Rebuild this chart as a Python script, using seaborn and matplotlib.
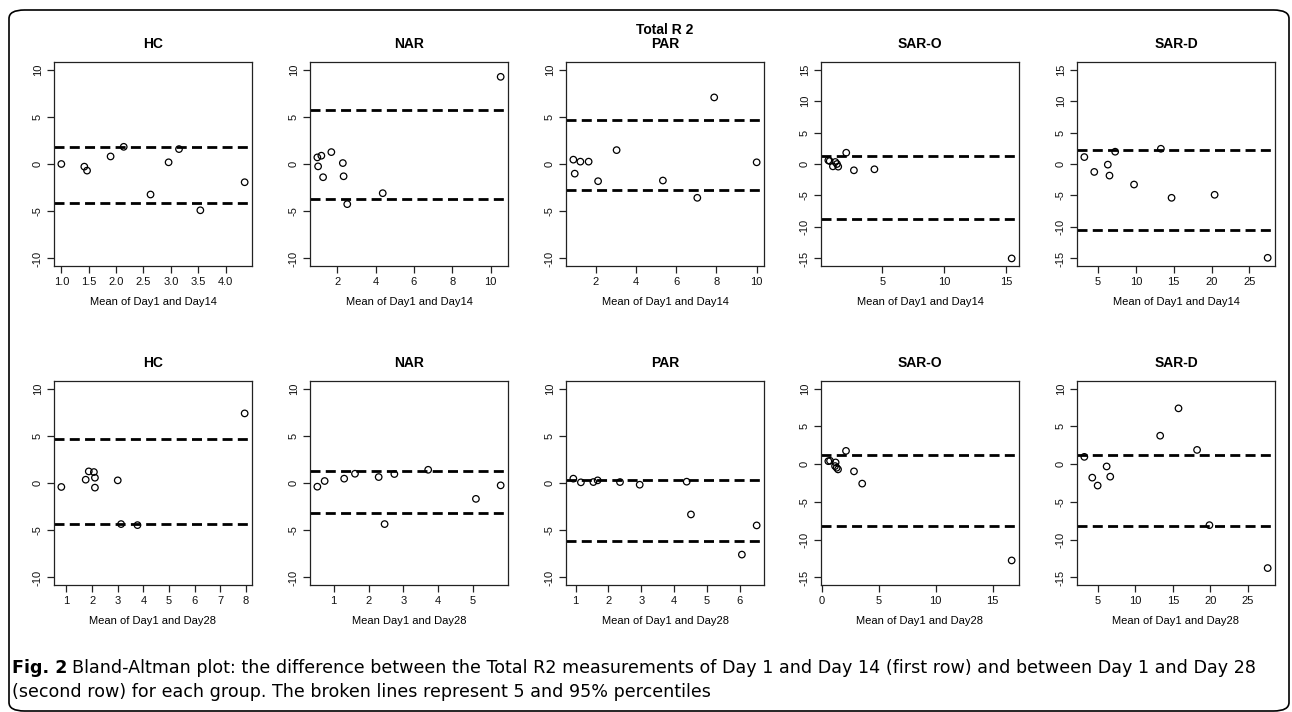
import matplotlib
matplotlib.use("Agg")
import matplotlib.pyplot as plt
import seaborn as sns
from matplotlib.patches import FancyBboxPatch

groups = ["HC", "NAR", "PAR", "SAR-O", "SAR-D"]

# ---- Day 1 vs Day 14 (first row) ----
hc14_mean = [1.0, 1.42, 1.47, 1.90, 2.14, 2.63, 2.96, 3.15, 3.54, 4.35]
hc14_diff = [0.0, -0.28, -0.7, 0.8, 1.82, -3.23, 0.18, 1.58, -4.9, -1.93]
hc14_lims = [1.75, -4.1]

nar14_mean = [0.96, 1.0, 1.17, 1.26, 1.69, 2.29, 2.33, 2.52, 4.37, 10.52]
nar14_diff = [0.70, -0.25, 0.88, -1.40, 1.26, 0.1, -1.3, -4.25, -3.09, 9.23]
nar14_lims = [5.68, -3.68]

par14_mean = [0.89, 0.96, 1.24, 1.65, 2.12, 3.04, 5.34, 7.05, 7.89, 10.0]
par14_diff = [0.46, -1.02, 0.25, 0.25, -1.82, 1.47, -1.75, -3.58, 7.05, 0.18]
par14_lims = [4.63, -2.74]

saro14_mean = [0.62, 0.73, 0.99, 1.18, 1.32, 1.42, 2.07, 2.69, 4.35, 15.46]
saro14_diff = [0.58, 0.47, -0.37, 0.32, 0.0, -0.42, 1.79, -1.0, -0.84, -15.0]
saro14_lims = [1.32, -8.68]

sard14_mean = [3.21, 4.52, 6.31, 6.53, 7.28, 9.77, 13.31, 14.72, 20.4, 27.4]
sard14_diff = [1.1, -1.26, -0.1, -1.84, 1.95, -3.26, 2.42, -5.37, -4.89, -14.9]
sard14_lims = [2.21, -10.53]

# ---- Day 1 vs Day 28 (second row) ----
hc28_mean = [0.80, 1.75, 1.87, 2.07, 2.11, 2.11, 3.0, 3.13, 3.77, 7.95]
hc28_diff = [-0.42, 0.35, 1.23, 1.16, 0.56, -0.49, 0.28, -4.35, -4.46, 7.37]
hc28_lims = [4.63, -4.39]

nar28_mean = [0.53, 0.74, 1.30, 1.61, 2.29, 2.46, 2.74, 3.71, 5.08, 5.79]
nar28_diff = [-0.39, 0.21, 0.46, 0.98, 0.63, -4.35, 0.95, 1.40, -1.68, -0.25]
nar28_lims = [1.26, -3.16]

par28_mean = [0.93, 1.16, 1.54, 1.67, 2.35, 2.95, 4.38, 4.51, 6.06, 6.51]
par28_diff = [0.46, 0.07, 0.1, 0.28, 0.1, -0.18, 0.14, -3.33, -7.58, -4.49]
par28_lims = [0.35, -6.18]

saro28_mean = [0.58, 0.73, 1.22, 1.17, 1.31, 1.43, 2.13, 2.83, 3.55, 16.66]
saro28_diff = [0.39, 0.44, 0.22, -0.26, -0.48, -0.70, 1.75, -0.96, -2.58, -12.75]
saro28_lims = [1.18, -8.17]

sard28_mean = [3.18, 4.24, 4.96, 6.16, 6.64, 13.31, 15.76, 18.24, 19.89, 27.67]
sard28_diff = [0.96, -1.79, -2.84, -0.31, -1.66, 3.76, 7.38, 1.88, -8.08, -13.76]
sard28_lims = [1.18, -8.17]

titles_row1 = ["HC", "NAR", "Total R 2\nPAR", "SAR-O", "SAR-D"]
titles_row2 = groups
xlabels_row1 = ["Mean of Day1 and Day14"] * 5
xlabels_row2 = ["Mean of Day1 and Day28", "Mean Day1 and Day28", "Mean of Day1 and Day28",
                "Mean of Day1 and Day28", "Mean of Day1 and Day28"]

xticks_row1 = [[1.0, 1.5, 2.0, 2.5, 3.0, 3.5, 4.0], [2, 4, 6, 8, 10], [2, 4, 6, 8, 10],
               [5, 10, 15], [5, 10, 15, 20, 25]]
xticks_row2 = [[1, 2, 3, 4, 5, 6, 7, 8], [1, 2, 3, 4, 5], [1, 2, 3, 4, 5, 6],
               [0, 5, 10, 15], [5, 10, 15, 20, 25]]
yticks_row1 = [[-10, -5, 0, 5, 10]] * 3 + [[-15, -10, -5, 0, 5, 10, 15]] * 2
yticks_row2 = [[-10, -5, 0, 5, 10]] * 3 + [[-15, -10, -5, 0, 5, 10]] * 2
ylims_row1 = [(-10.8, 10.8)] * 3 + [(-16.2, 16.2)] * 2
ylims_row2 = [(-10.8, 10.8)] * 3 + [(-16, 11)] * 2

row1 = [(hc14_mean, hc14_diff, hc14_lims), (nar14_mean, nar14_diff, nar14_lims),
        (par14_mean, par14_diff, par14_lims), (saro14_mean, saro14_diff, saro14_lims),
        (sard14_mean, sard14_diff, sard14_lims)]
row2 = [(hc28_mean, hc28_diff, hc28_lims), (nar28_mean, nar28_diff, nar28_lims),
        (par28_mean, par28_diff, par28_lims), (saro28_mean, saro28_diff, saro28_lims),
        (sard28_mean, sard28_diff, sard28_lims)]

sns.set_style("ticks")
plt.rcParams["font.family"] = ["Liberation Sans", "DejaVu Sans"]
plt.rcParams["axes.unicode_minus"] = False
plt.rcParams["axes.linewidth"] = 0.9
plt.rcParams["axes.edgecolor"] = "#222222"
plt.rcParams["text.color"] = "black"
plt.rcParams["axes.labelcolor"] = "black"

W, H = 1292, 712
fig = plt.figure(figsize=(W / 100, H / 100), dpi=100)

# outer rounded frame
frame = FancyBboxPatch((9 / W, 1 - 711 / H), 1280 / W, 701 / H,
                       boxstyle="round,pad=0,rounding_size=0.012",
                       transform=fig.transFigure, fill=False,
                       edgecolor="black", linewidth=1.2, zorder=0)
fig.patches.append(frame)

lefts = [54, 310, 566, 821, 1077]
pw, ph = 198, 204
tops = [62, 381]


def draw_panel(ax, mean, diff, lims, title, xlabel, xticks, yticks, ylim):
    sns.scatterplot(x=mean, y=diff, ax=ax, marker="o", s=22,
                    facecolor="none", edgecolor="black", linewidth=0.9, zorder=3)
    for v in lims:
        ax.axhline(v, color="black", lw=2.0, dashes=(3.6, 1.9), zorder=2)
    lo, hi = min(mean), max(mean)
    pad = 0.04 * (hi - lo)
    ax.set_xlim(lo - pad, hi + pad)
    ax.set_ylim(*ylim)
    ax.set_xticks(xticks)
    ax.set_yticks(yticks)
    if isinstance(xticks[0], float):
        ax.set_xticklabels([f"{t:.1f}" for t in xticks])
    ax.tick_params(axis="both", direction="out", length=5, width=0.9,
                   labelsize=8, color="#222222", labelcolor="#111111", pad=3)
    ax.tick_params(axis="y", labelrotation=90)
    for lbl in ax.get_yticklabels():
        lbl.set_va("center")
    ax.set_title(title, fontsize=10, fontweight="bold", pad=10, linespacing=1.0,
                 color="black")
    ax.set_xlabel(xlabel, fontsize=8, labelpad=7)
    ax.set_ylabel("")
    for s in ax.spines.values():
        s.set_visible(True)


for r, (rowdata, titles, xlabels, xts, yts, yls) in enumerate(
        [(row1, titles_row1, xlabels_row1, xticks_row1, yticks_row1, ylims_row1),
         (row2, titles_row2, xlabels_row2, xticks_row2, yticks_row2, ylims_row2)]):
    for c in range(5):
        ax = fig.add_axes([lefts[c] / W, 1 - (tops[r] + ph) / H, pw / W, ph / H])
        m, d, l = rowdata[c]
        draw_panel(ax, m, d, l, titles[c], xlabels[c], xts[c], yts[c], yls[c])

# caption
cap_font = ["Liberation Sans Narrow", "DejaVu Sans"]
y1 = 1 - 668 / H
y2 = 1 - 692 / H
t0 = fig.text(12 / W, y1, "Fig. 2", fontsize=12.6, fontweight="bold",
              family=cap_font, va="center", ha="left", color="black")
fig.canvas.draw()
bb = t0.get_window_extent()
fig.text((bb.x1 + 5) / W, y1,
         "Bland-Altman plot: the difference between the Total R2 measurements of Day 1 and "
         "Day 14 (first row) and between Day 1 and Day 28",
         fontsize=12.6, family=cap_font, va="center", ha="left", color="black")
fig.text(12 / W, y2,
         "(second row) for each group. The broken lines represent 5 and 95% percentiles",
         fontsize=12.6, family=cap_font, va="center", ha="left", color="black")

fig.savefig("out.png", dpi=100)
